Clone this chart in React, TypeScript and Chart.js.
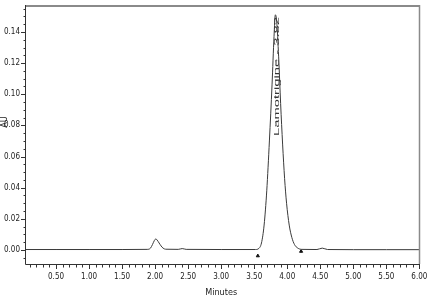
import React, { useEffect, useRef } from "react";
import { Chart, registerables } from "chart.js";

Chart.register(...registerables);

// ---- data ----
const traceTimes = [
  0.03, 0.5, 1.0, 1.5, 1.88, 1.93, 1.96, 1.99, 2.01, 2.03, 2.06, 2.09, 2.12, 2.16,
  2.35, 2.41, 2.47, 3.0, 3.52, 3.57, 3.61, 3.65, 3.69, 3.73, 3.77, 3.8, 3.82, 3.84,
  3.87, 3.9, 3.93, 3.96, 3.99, 4.03, 4.07, 4.11, 4.16, 4.22, 4.45, 4.53, 4.61, 5.0,
  5.5, 6.01,
];
const traceAU = [
  0.0003, 0.0003, 0.0003, 0.0003, 0.0004, 0.0012, 0.0035, 0.0062, 0.0071, 0.0064,
  0.0045, 0.0026, 0.0012, 0.0005, 0.0004, 0.0009, 0.0004, 0.0003, 0.0003, 0.001,
  0.0045, 0.016, 0.038, 0.07, 0.106, 0.137, 0.151, 0.147, 0.124, 0.094, 0.068,
  0.046, 0.03, 0.016, 0.008, 0.0035, 0.0012, 0.0004, 0.0003, 0.0012, 0.0003,
  0.0002, 0.0002, 0.0002,
];
const markerTimes = [3.555, 4.21];
const markerAU = [-0.0038, -0.0009];
const peakLabel = "Lamotrigine - 3.82";
const peakLabelTime = 3.84;

const xTickValues = [0.5, 1.0, 1.5, 2.0, 2.5, 3.0, 3.5, 4.0, 4.5, 5.0, 5.5, 6.0];
const yTickValues = [0.0, 0.02, 0.04, 0.06, 0.08, 0.1, 0.12, 0.14];
const xMinorStep = 0.1;
const yMinorStep = 0.005;
const xMin = 0.03;
const xMax = 6.01;
const yMin = -0.009;
const yMax = 0.1573;
const xTitle = "Minutes";
const yTitle = "AU";

const narrow = "'Liberation Sans Narrow', 'Arial Narrow', 'DejaVu Sans Condensed', sans-serif";

const framePlugin = {
  id: "frame",
  afterDatasetsDraw(chart: any) {
    const { ctx, chartArea: a, scales } = chart;
    const xs = scales.x;
    const ys = scales.y;
    ctx.save();
    // top and right border
    ctx.strokeStyle = "#8a8a8a";
    ctx.lineWidth = 2;
    ctx.beginPath();
    ctx.moveTo(a.left, a.top + 1);
    ctx.lineTo(a.right, a.top + 1);
    ctx.stroke();
    ctx.lineWidth = 1.5;
    ctx.beginPath();
    ctx.moveTo(a.right - 0.5, a.top);
    ctx.lineTo(a.right - 0.5, a.bottom);
    ctx.stroke();
    // left and bottom axes
    ctx.strokeStyle = "#333";
    ctx.lineWidth = 1;
    ctx.beginPath();
    ctx.moveTo(a.left + 0.5, a.top);
    ctx.lineTo(a.left + 0.5, a.bottom + 0.5);
    ctx.lineTo(a.right, a.bottom + 0.5);
    ctx.stroke();
    // x ticks
    ctx.beginPath();
    for (let i = 1; ; i++) {
      const v = Math.round(i * xMinorStep * 100) / 100;
      if (v > xMax) break;
      const px = Math.round(xs.getPixelForValue(v)) + 0.5;
      const major = xTickValues.some((t) => Math.abs(t - v) < 1e-6);
      ctx.moveTo(px, a.bottom);
      ctx.lineTo(px, a.bottom + (major ? 5 : 3.5));
    }
    ctx.stroke();
    // y ticks
    ctx.beginPath();
    for (let i = -1; ; i++) {
      const v = Math.round(i * yMinorStep * 1000) / 1000;
      if (v > yMax) break;
      const py = Math.round(ys.getPixelForValue(v)) + 0.5;
      const major = yTickValues.some((t) => Math.abs(t - v) < 1e-6);
      ctx.moveTo(a.left - (major ? 4 : 1.5), py);
      ctx.lineTo(a.left, py);
    }
    ctx.stroke();
    // axis titles
    ctx.fillStyle = "#222";
    ctx.font = `9px ${narrow}`;
    ctx.textAlign = "center";
    ctx.textBaseline = "middle";
    ctx.fillText(xTitle, xs.getPixelForValue(3.0), 293);
    ctx.save();
    ctx.translate(5, 122);
    ctx.rotate(-Math.PI / 2);
    ctx.fillText(yTitle, 0, 0);
    ctx.restore();
    // peak label, rotated, reading upward
    const lx = xs.getPixelForValue(peakLabelTime);
    const yStart = 136;
    const yEnd = 17;
    ctx.fillStyle = "#333";
    ctx.font = `8px 'Liberation Sans', Arial, sans-serif`;
    const w = ctx.measureText(peakLabel).width;
    ctx.save();
    ctx.translate(lx, yStart);
    ctx.rotate(-Math.PI / 2);
    ctx.scale((yStart - yEnd) / w, 1);
    ctx.textAlign = "left";
    ctx.fillText(peakLabel, 0, 0);
    ctx.restore();
    ctx.restore();
  },
};

const zeroPad = (s: any) => {
  s.paddingTop = 0;
  s.paddingBottom = 0;
  s.paddingLeft = 0;
  s.paddingRight = 0;
};

export default function App() {
  const ref = useRef<HTMLCanvasElement | null>(null);
  useEffect(() => {
    if (!ref.current) return;
    const chart = new Chart(ref.current, {
      type: "scatter",
      data: {
        datasets: [
          {
            data: traceTimes.map((t, i) => ({ x: t, y: traceAU[i] })),
            showLine: true,
            borderColor: "#3a3a3a",
            borderWidth: 1,
            pointRadius: 0,
            cubicInterpolationMode: "monotone",
          } as any,
          {
            data: markerTimes.map((t, i) => ({ x: t, y: markerAU[i] })),
            showLine: false,
            pointStyle: "triangle",
            pointRadius: 1.8,
            backgroundColor: "#111",
            borderColor: "#111",
            borderWidth: 1,
          } as any,
        ],
      },
      options: {
        responsive: false,
        animation: false,
        layout: { padding: { top: 5, right: 8, left: 0, bottom: 0 } },
        plugins: { legend: { display: false }, tooltip: { enabled: false } },
        scales: {
          x: {
            type: "linear",
            min: xMin,
            max: xMax,
            afterBuildTicks: (s: any) => {
              s.ticks = xTickValues.map((v) => ({ value: v }));
            },
            afterFit: (s: any) => {
              s.height = 44;
              zeroPad(s);
            },
            grid: { display: false, drawTicks: false },
            border: { display: false },
            ticks: {
              autoSkip: false,
              maxRotation: 0,
              padding: 8,
              color: "#222",
              font: { family: narrow, size: 8 },
              callback: (v: any) => Number(v).toFixed(2),
            },
          },
          y: {
            type: "linear",
            min: yMin,
            max: yMax,
            afterBuildTicks: (s: any) => {
              s.ticks = yTickValues.map((v) => ({ value: v }));
            },
            afterFit: (s: any) => {
              s.width = 25;
              zeroPad(s);
            },
            grid: { display: false, drawTicks: false },
            border: { display: false },
            ticks: {
              padding: 5,
              color: "#222",
              font: { family: narrow, size: 8 },
              callback: (v: any) => Number(v).toFixed(2),
            },
          },
        },
      },
      plugins: [framePlugin],
    } as any);
    return () => chart.destroy();
  }, []);
  return (
    <div style={{ position: "fixed", left: 0, top: 0, width: 428, height: 308, background: "#fff" }}>
      <canvas ref={ref} width={428} height={308} />
    </div>
  );
}
